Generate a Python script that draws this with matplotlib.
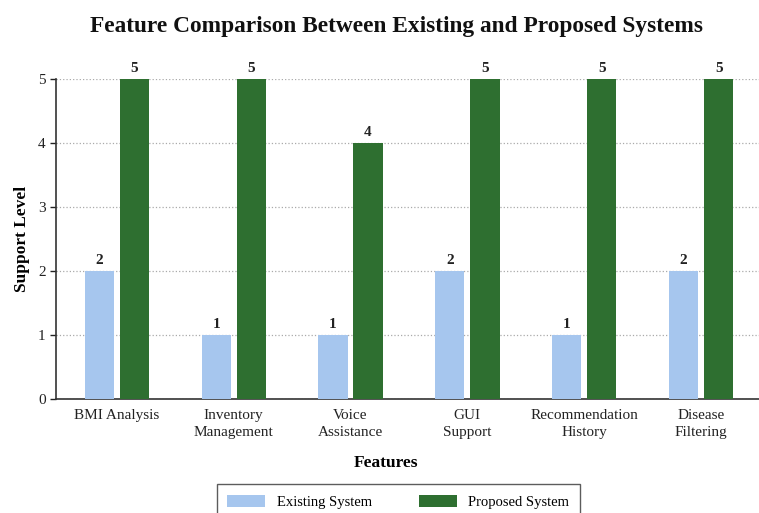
import numpy as np
import matplotlib.pyplot as plt

# Feature comparison data
features = ["BMI Analysis", "Inventory\nManagement", "Voice\nAssistance",
            "GUI\nSupport", "Recommendation\nHistory", "Disease\nFiltering"]
existing = [2, 1, 1, 2, 1, 2]
proposed = [5, 5, 4, 5, 5, 5]

plt.rcParams['font.family'] = ['Liberation Serif', 'DejaVu Serif']

fig = plt.figure(figsize=(7.59, 5.13), dpi=100)
ax = fig.add_axes([0.0738, 0.222, 0.93, 0.624])

x = np.arange(len(features))
w = 0.25
off = 0.15

b1 = ax.bar(x - off, existing, w, color='#a6c6ee', label='Existing System', zorder=3)
b2 = ax.bar(x + off, proposed, w, color='#2e6f30', label='Proposed System', zorder=3)

# value labels above the bars
for bars in (b1, b2):
    for r in bars:
        ax.text(r.get_x() + r.get_width() / 2, r.get_height() + 0.06,
                "%d" % r.get_height(), ha='center', va='bottom',
                fontsize=11, fontweight='bold', color='#222222')

ax.set_xlim(-0.52, 5.52)
ax.set_ylim(0, 5)
ax.set_xticks(x)
ax.set_xticklabels(features, fontsize=11, color='#222222', linespacing=1.45)
ax.set_yticks(range(6))
ax.tick_params(axis='y', labelsize=11, length=4, width=1, colors='#222222')
ax.tick_params(axis='x', length=0, pad=7)

ax.yaxis.grid(True, linestyle=':', color='#aaaaaa', linewidth=0.9, zorder=0)
ax.spines['top'].set_visible(False)
ax.spines['right'].set_visible(False)
ax.spines['left'].set_color('#333333')
ax.spines['bottom'].set_color('#333333')
ax.spines['left'].set_linewidth(1.2)
ax.spines['bottom'].set_linewidth(1.2)

ax.set_xlabel("Features", fontsize=12.5, fontweight='bold')
ax.xaxis.set_label_coords(0.468, -0.175)
ax.set_ylabel("Support Level", fontsize=12.5, fontweight='bold', labelpad=6)
fig.suptitle("Feature Comparison Between Existing and Proposed Systems",
             fontsize=16.8, fontweight='bold', x=0.522, y=0.968, color='#111111')

leg = fig.legend(loc='upper center', bbox_to_anchor=(0.525, 0.056), ncol=2,
                 fontsize=10.5, frameon=True, fancybox=False, edgecolor='#333333',
                 handlelength=2.6, handleheight=0.9, columnspacing=3.2,
                 borderpad=0.75, borderaxespad=0)
leg.get_frame().set_linewidth(1.0)

fig.savefig("out.png", dpi=100)
